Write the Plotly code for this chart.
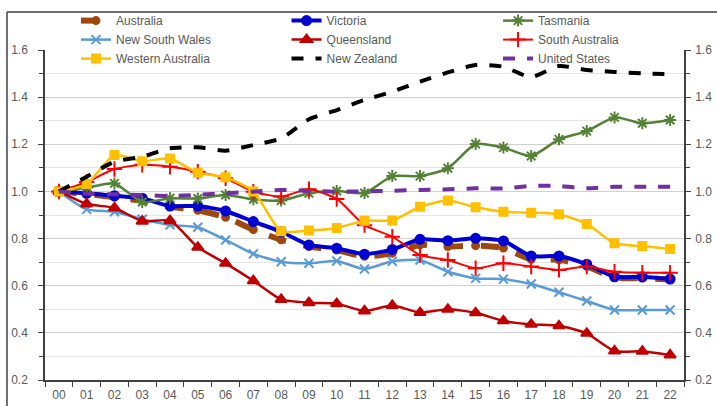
"""
Grafico de lineas: indices relativos al año 2000 (00 = 1.0).
"""
import plotly.graph_objects as go

ANIOS = [f"{i:02d}" for i in range(23)]

AUSTRALIA = [1.0, 0.99, 0.975, 0.96, 0.935, 0.92, 0.89, 0.838, 0.795, 0.766, 0.751, 0.725,
             0.738, 0.773, 0.766, 0.77, 0.76, 0.712, 0.71, 0.682, 0.635, 0.632, 0.626]
VICTORIA = [1.0, 0.992, 0.982, 0.971, 0.938, 0.938, 0.917, 0.872, 0.829, 0.773, 0.759, 0.734,
            0.754, 0.797, 0.791, 0.801, 0.79, 0.726, 0.726, 0.691, 0.638, 0.638, 0.628]
TASMANIA = [1.0, 1.016, 1.034, 0.955, 0.971, 0.97, 0.985, 0.967, 0.961, 0.992, 1.002, 0.993,
            1.065, 1.065, 1.098, 1.201, 1.186, 1.15, 1.221, 1.256, 1.314, 1.289, 1.303]
NSW = [1.0, 0.924, 0.914, 0.882, 0.858, 0.848, 0.794, 0.735, 0.702, 0.695, 0.705, 0.671,
       0.704, 0.709, 0.659, 0.631, 0.628, 0.607, 0.572, 0.535, 0.497, 0.497, 0.497]
QUEENSLAND = [1.0, 0.947, 0.93, 0.874, 0.876, 0.763, 0.695, 0.621, 0.542, 0.528, 0.524, 0.493,
              0.516, 0.486, 0.5, 0.485, 0.451, 0.436, 0.43, 0.398, 0.323, 0.322, 0.306]
SOUTH_AUSTRALIA = [1.0, 1.04, 1.095, 1.113, 1.105, 1.084, 1.056, 0.999, 0.978, 1.009, 0.968, 0.857,
                   0.808, 0.73, 0.709, 0.674, 0.695, 0.681, 0.667, 0.681, 0.659, 0.655, 0.655]
WESTERN_AUSTRALIA = [1.0, 1.031, 1.155, 1.128, 1.14, 1.079, 1.06, 1.0, 0.831, 0.834, 0.845, 0.876,
                     0.877, 0.935, 0.961, 0.933, 0.914, 0.91, 0.903, 0.862, 0.78, 0.768, 0.756]
NEW_ZEALAND = [1.0, 1.062, 1.126, 1.147, 1.183, 1.187, 1.173, 1.197, 1.225, 1.306, 1.345, 1.388,
               1.423, 1.466, 1.505, 1.536, 1.529, 1.485, 1.532, 1.515, 1.507, 1.501, 1.497]
UNITED_STATES = [1.0, 0.99, 0.988, 0.985, 0.98, 0.986, 0.992, 0.999, 1.006, 1.002, 0.999, 1.0,
                 1.003, 1.006, 1.009, 1.013, 1.013, 1.023, 1.023, 1.013, 1.02, 1.02, 1.02]

FUENTE = "Liberation Sans, Arial, sans-serif"
GRIS_TEXTO = "#595959"
GRIS_EJE = "#404040"

# nombre, valores, color, ancho, dash, simbolo, tamaño, leyenda
SERIES = [
    ("Australia", AUSTRALIA, "#9E480E", 6, "dash", "circle", 7, "legend"),
    ("Victoria", VICTORIA, "#0000D0", 4, "solid", "circle", 9, "legend2"),
    ("Tasmania", TASMANIA, "#548235", 2.5, "solid", "asterisk-open", 10, "legend3"),
    ("New South Wales", NSW, "#5B9BD5", 2.5, "solid", "x-thin-open", 9, "legend"),
    ("Queensland", QUEENSLAND, "#C00000", 2.5, "solid", "triangle-up", 10, "legend2"),
    ("South Australia", SOUTH_AUSTRALIA, "#FF0000", 2, "solid", "cross-thin-open", 11, "legend3"),
    ("Western Australia", WESTERN_AUSTRALIA, "#FFC000", 2.5, "solid", "square", 8, "legend"),
    ("New Zealand", NEW_ZEALAND, "#000000", 4, "dash", None, 0, "legend2"),
    ("United States", UNITED_STATES, "#7030A0", 4, "dash", None, 0, "legend3"),
]


def build_indices():
    fig = go.Figure()

    for nombre, valores, color, ancho, dash, simbolo, tam, leyenda in SERIES:
        if simbolo is None:
            modo = "lines"
            marker = None
        else:
            modo = "lines+markers"
            marker = dict(symbol=simbolo, size=tam, color=color,
                          line=dict(color=color, width=2))
        fig.add_trace(go.Scatter(
            x=ANIOS, y=valores, name=nombre, mode=modo,
            line=dict(color=color, width=ancho, dash=dash, shape="spline", smoothing=0.6),
            marker=marker, legend=leyenda,
        ))

    # eje derecho (mismo rango), solo para marcas y etiquetas
    fig.add_trace(go.Scatter(x=ANIOS, y=VICTORIA, yaxis="y2", mode="lines",
                             line=dict(width=0), opacity=0, showlegend=False,
                             hoverinfo="skip"))

    leyenda_base = dict(orientation="v", yanchor="top", y=1.133, xanchor="left",
                        bgcolor="rgba(0,0,0,0)", font=dict(family=FUENTE, size=12, color=GRIS_TEXTO),
                        tracegroupgap=0, itemwidth=30)

    eje_y = dict(range=[0.2, 1.6], dtick=0.2, tick0=0.2, tickformat=".1f",
                 showline=True, linecolor=GRIS_EJE, linewidth=1.5,
                 ticks="outside", ticklen=5, tickcolor=GRIS_EJE, tickwidth=1.2,
                 tickfont=dict(family=FUENTE, size=12, color=GRIS_TEXTO),
                 zeroline=False)

    fig.update_layout(
        width=717, height=406,
        margin=dict(l=45, r=33, t=50, b=26, autoexpand=False),
        paper_bgcolor="white", plot_bgcolor="white",
        showlegend=True,
        legend=dict(leyenda_base, x=0.0485),
        legend2=dict(leyenda_base, x=0.378),
        legend3=dict(leyenda_base, x=0.709),
        xaxis=dict(type="category", range=[-0.5, 22.5], tickson="boundaries",
                   showline=True, linecolor=GRIS_EJE, linewidth=1.5,
                   ticks="outside", ticklen=5, tickcolor=GRIS_EJE, tickwidth=1.2,
                   tickfont=dict(family=FUENTE, size=12, color=GRIS_TEXTO),
                   ticklabelstandoff=3, showgrid=False),
        yaxis=dict(eje_y, showgrid=True, gridcolor="#D0D0D0", gridwidth=1,
                   ticklabelstandoff=8,
                   minor=dict(dtick=0.1, showgrid=True, gridcolor="#E6E6E6",
                              ticks="outside", ticklen=4, tickcolor=GRIS_EJE)),
        yaxis2=dict(eje_y, overlaying="y", side="right", showgrid=False,
                    ticklabelstandoff=2,
                    minor=dict(dtick=0.1, ticks="outside", ticklen=4, tickcolor=GRIS_EJE)),
    )

    # borde del area del grafico (recortado)
    fig.add_shape(type="line", xref="paper", yref="paper", layer="above",
                  x0=-0.0595, x1=-0.0595, y0=-0.2, y1=1.115,
                  line=dict(color="#404040", width=1.5))
    fig.add_shape(type="line", xref="paper", yref="paper", layer="above",
                  x0=-0.0595, x1=1.1, y0=1.115, y1=1.115,
                  line=dict(color="#404040", width=1.5))

    return fig


fig = build_indices()
# sin margen del body para que la figura ocupe la ventana completa
fig.write_html("out.html", config={"displayModeBar": False},
               post_script="document.body.style.margin = '0px';")
